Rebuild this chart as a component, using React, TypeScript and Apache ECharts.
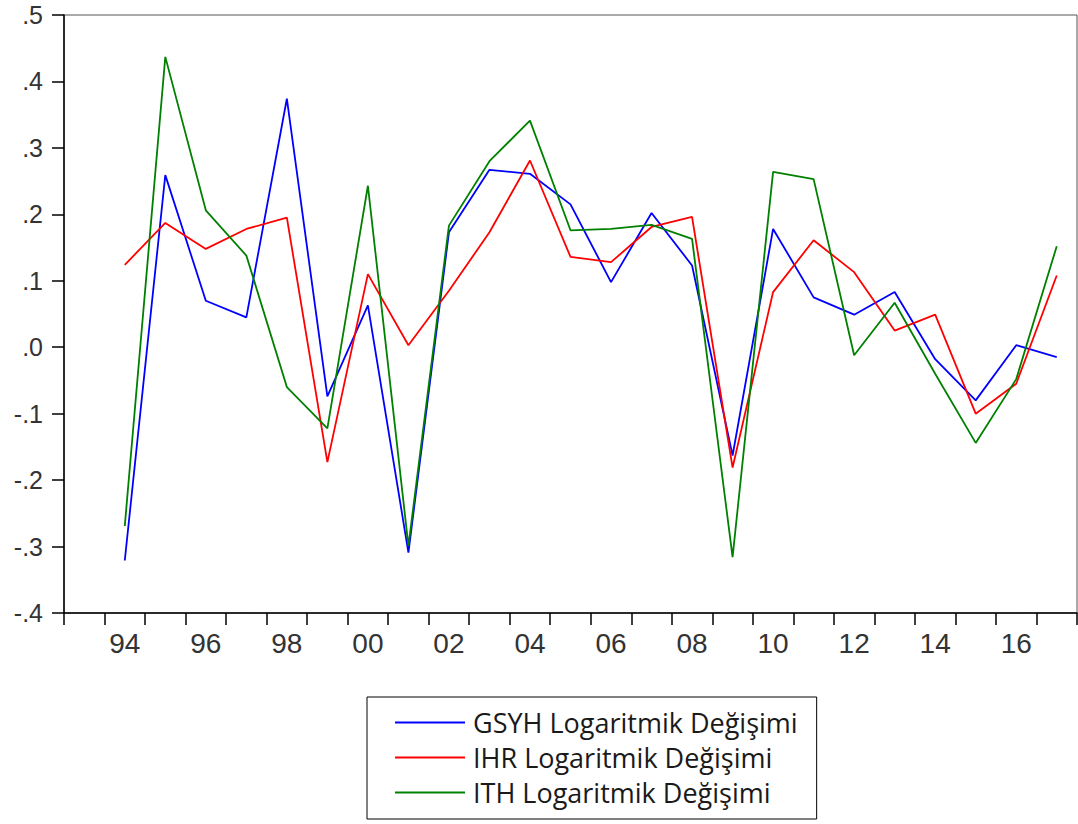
import React, { useEffect, useRef } from "react";
import * as echarts from "echarts";

const years = ["93","94","95","96","97","98","99","00","01","02","03","04","05","06","07","08","09","10","11","12","13","14","15","16","17"];
const seriesNames = ["GSYH Logaritmik Değişimi", "IHR Logaritmik Değişimi", "ITH Logaritmik Değişimi"];
const gsyh = [null, -0.321, 0.259, 0.070, 0.045, 0.374, -0.074, 0.063, -0.309, 0.173, 0.267, 0.261, 0.215, 0.098, 0.202, 0.123, -0.163, 0.178, 0.075, 0.049, 0.083, -0.018, -0.080, 0.003, -0.015];
const ihr = [null, 0.124, 0.187, 0.148, 0.178, 0.195, -0.173, 0.110, 0.003, 0.085, 0.173, 0.281, 0.136, 0.128, 0.181, 0.196, -0.181, 0.083, 0.161, 0.113, 0.025, 0.049, -0.100, -0.055, 0.108];
const ith = [null, -0.269, 0.437, 0.206, 0.138, -0.060, -0.122, 0.243, -0.299, 0.183, 0.280, 0.341, 0.176, 0.178, 0.184, 0.163, -0.316, 0.264, 0.253, -0.012, 0.067, -0.040, -0.144, -0.048, 0.152];
const colors = ["#0000ff", "#ff0000", "#008000"];

function fmtY(v: number): string {
  const n = Math.round(v * 10);
  if (n === 0) return ".0";
  return (n < 0 ? "-." : ".") + Math.abs(n);
}

export default function App() {
  const ref = useRef<HTMLDivElement>(null);
  useEffect(() => {
    if (!ref.current) return;
    const chart = echarts.init(ref.current, undefined, { renderer: "svg" });
    const data = [gsyh, ihr, ith];
    chart.setOption({
      animation: false,
      backgroundColor: "#ffffff",
      grid: {
        left: 64,
        top: 15,
        right: 1,
        bottom: 211,
        show: true,
        borderColor: "#555",
        borderWidth: 1,
        backgroundColor: "transparent",
      },
      legend: {
        orient: "vertical",
        left: 367,
        top: 697,
        data: seriesNames,
        icon: "rect",
        itemWidth: 70,
        itemHeight: 2,
        itemGap: 6,
        borderColor: "#000",
        borderWidth: 1,
        padding: [11, 19, 12, 28],
        textStyle: {
          fontFamily: "Open Sans",
          fontSize: 27,
          color: "#1a1a1a",
          lineHeight: 29,
          padding: [0, 0, 0, 3],
        },
      },
      xAxis: {
        type: "category",
        data: years,
        boundaryGap: true,
        axisLine: { onZero: false, lineStyle: { color: "#000", width: 1.5 } },
        axisTick: { show: true, interval: 0, length: 12, alignWithLabel: false, lineStyle: { color: "#000", width: 1.5 } },
        axisLabel: {
          interval: (i: number) => i % 2 === 1,
          margin: 16,
          fontFamily: "Liberation Sans",
          fontSize: 28,
          color: "#333",
        },
        splitLine: { show: false },
      },
      yAxis: {
        type: "value",
        min: -0.4,
        max: 0.5,
        interval: 0.1,
        axisLine: { show: true, lineStyle: { color: "#000", width: 1.5 } },
        axisTick: { show: true, length: 12, lineStyle: { color: "#000", width: 1.5 } },
        axisLabel: {
          formatter: fmtY,
          margin: 21,
          fontFamily: "Liberation Sans",
          fontSize: 25,
          color: "#333",
        },
        splitLine: { show: false },
      },
      series: seriesNames.map((name, i) => ({
        name,
        type: "line",
        data: data[i],
        symbol: "none",
        color: colors[i],
        lineStyle: { color: colors[i], width: 1.8 },
        connectNulls: false,
      })),
    });
    return () => chart.dispose();
  }, []);
  return (
    <div
      ref={ref}
      style={{ position: "fixed", left: 0, top: 0, width: 1078, height: 824, background: "#fff" }}
    />
  );
}
